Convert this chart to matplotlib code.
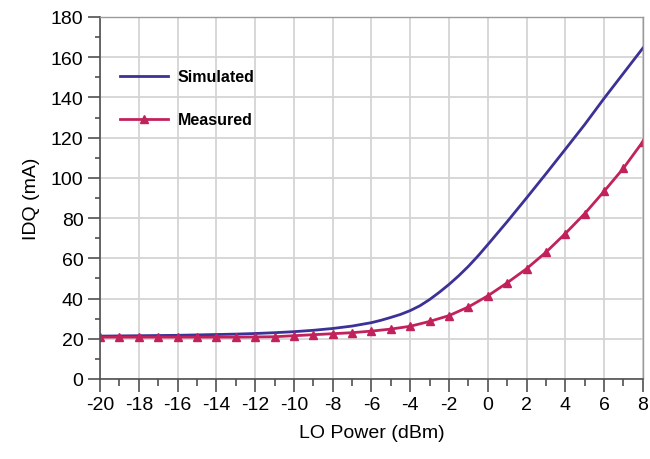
import matplotlib
matplotlib.use("Agg")
import matplotlib.pyplot as plt
from matplotlib.ticker import MultipleLocator

# LO power sweep (dBm); simulation uses a finer step around the knee
sim_power = [-20, -19, -18, -17, -16, -15, -14, -13, -12, -11, -10, -9, -8, -7,
             -6, -5.5, -5, -4.5, -4, -3.5, -3, -2.5, -2, -1.5, -1, -0.5,
             0, 1, 2, 3, 4, 5, 6, 7, 8]
meas_power = [-20, -19, -18, -17, -16, -15, -14, -13, -12, -11, -10, -9, -8, -7,
              -6, -5, -4, -3, -2, -1, 0, 1, 2, 3, 4, 5, 6, 7, 8]

# drain quiescent current (mA)
idq_simulated = [21.3, 21.4, 21.5, 21.6, 21.7, 21.9, 22.1, 22.3, 22.6, 23.0,
                 23.5, 24.2, 25.1, 26.3, 28.0, 29.2, 30.6, 32.1, 34.0, 36.4,
                 39.5, 43.1, 47.0, 51.3, 56.0, 61.2,
                 66.8, 78.2, 90.0, 102.0, 114.2, 126.5, 139.5, 152.0, 164.5]
idq_measured = [20.8, 20.8, 20.8, 20.8, 20.8, 20.8, 20.8, 20.8, 20.9, 21.0,
                21.5, 22.0, 22.5, 23.0, 23.8, 24.8, 26.2, 28.6, 31.5, 35.8,
                41.3, 47.8, 54.8, 63.0, 72.3, 82.2, 93.3, 104.8, 118.0]

plt.rcParams['font.family'] = ['Liberation Sans', 'DejaVu Sans']
plt.rcParams['axes.unicode_minus'] = False

fig = plt.figure(figsize=(6.5, 4.6), dpi=100)
ax = fig.add_axes([0.154, 0.174, 0.835, 0.787])

ax.plot(sim_power, idq_simulated, color='#3c3196', lw=2.0, label='Simulated')
ax.plot(meas_power, idq_measured, color='#c2225c', lw=2.0, marker='^',
        markersize=5.5, label='Measured')

ax.set_xlim(-20, 8)
ax.set_ylim(0, 180)
ax.xaxis.set_major_locator(MultipleLocator(2))
ax.xaxis.set_minor_locator(MultipleLocator(1))
ax.yaxis.set_major_locator(MultipleLocator(20))
ax.yaxis.set_minor_locator(MultipleLocator(10))

ax.grid(True, which='major', color='#d4d4d4', lw=1.3)
ax.set_axisbelow(True)

spine_col = '#505050'
for side in ['left', 'bottom']:
    ax.spines[side].set_color(spine_col)
    ax.spines[side].set_linewidth(1.2)
for side in ['top', 'right']:
    ax.spines[side].set_color('#9a9a9a')
    ax.spines[side].set_linewidth(1.0)

ax.tick_params(axis='both', which='major', labelsize=14, direction='out',
               color=spine_col, width=1.2, pad=3)
ax.tick_params(axis='x', which='major', length=9)
ax.tick_params(axis='y', which='major', length=9)
ax.tick_params(axis='x', which='minor', length=5, color=spine_col, width=1.2)
ax.tick_params(axis='y', which='minor', length=3.5, color=spine_col, width=1.2)

ax.set_xlabel('LO Power (dBm)', fontsize=14, labelpad=8)
ax.set_ylabel('IDQ (mA)', fontsize=14, labelpad=8)

leg = ax.legend(loc='upper left', bbox_to_anchor=(0.01, 0.895), frameon=False,
                labelspacing=1.75, handlelength=3.0, handletextpad=0.6,
                prop={'weight': 'bold', 'size': 11.5})

fig.savefig('out.png', dpi=100)
